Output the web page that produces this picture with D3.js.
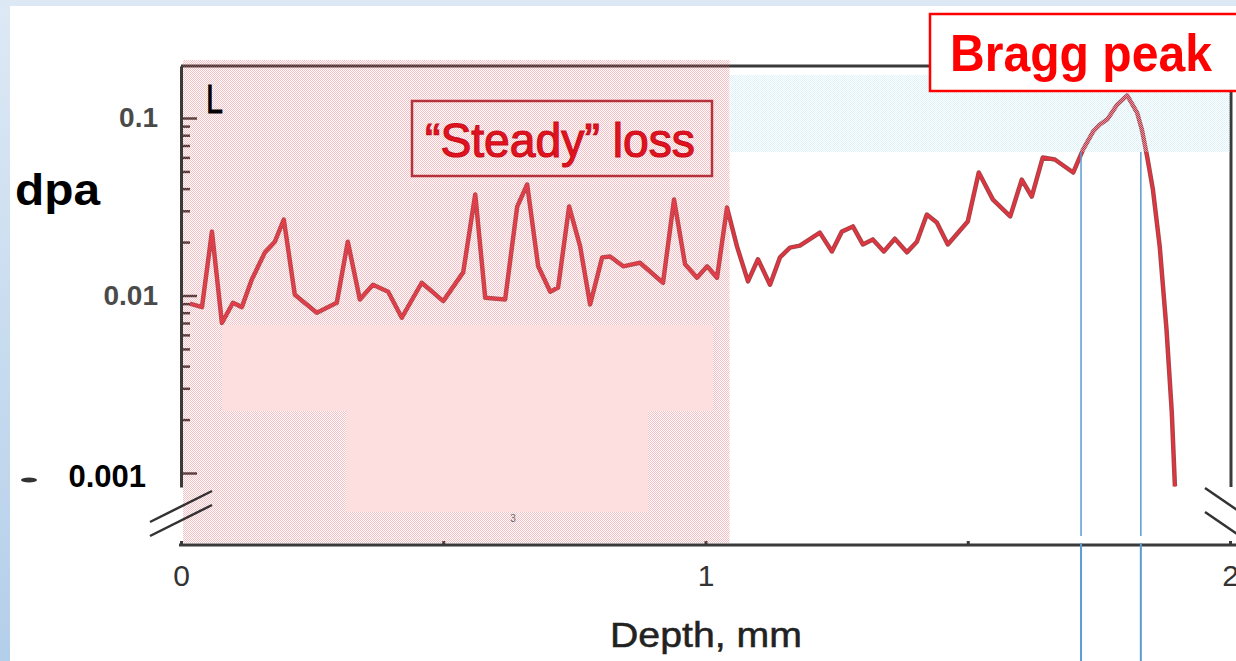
<!DOCTYPE html>
<html>
<head>
  <script src="https://d3js.org/d3.v7.min.js"></script>
  <style>
    body { margin: 0; background: #fff; }
    svg text { font-family: Arial, "Liberation Sans", sans-serif; }
    .axis path, .axis line { stroke: #3a3a3a; }
  </style>
</head>
<body>
  <svg class="chart" width="1236" height="661"></svg>
  <script>
    // depth (mm) and dpa
    var depthMm = [0.017, 0.040, 0.059, 0.078, 0.099, 0.116, 0.135, 0.160, 0.179, 0.196,
      0.217, 0.259, 0.297, 0.318, 0.341, 0.366, 0.395, 0.421, 0.459, 0.500,
      0.538, 0.561, 0.580, 0.618, 0.641, 0.660, 0.681, 0.704, 0.719, 0.740,
      0.761, 0.780, 0.803, 0.818, 0.843, 0.875, 0.919, 0.940, 0.961, 0.984,
      1.003, 1.022, 1.041, 1.060, 1.081, 1.100, 1.123, 1.142, 1.161, 1.180,
      1.218, 1.241, 1.260, 1.281, 1.300, 1.319, 1.340, 1.361, 1.384, 1.403,
      1.422, 1.441, 1.462, 1.500, 1.521, 1.548, 1.581, 1.603, 1.622, 1.643,
      1.666, 1.701, 1.720, 1.739, 1.752, 1.766, 1.785, 1.804, 1.823, 1.832,
      1.842, 1.853, 1.866, 1.879, 1.889, 1.895];
    var dpaValues = [0.0090, 0.0086, 0.0229, 0.0070, 0.0091, 0.0086, 0.0123, 0.0175, 0.0201, 0.0268,
      0.0101, 0.0080, 0.0091, 0.0201, 0.0095, 0.0115, 0.0105, 0.0075, 0.0118, 0.0093,
      0.0135, 0.0371, 0.0097, 0.0095, 0.0317, 0.0422, 0.0146, 0.0105, 0.0111, 0.0317,
      0.0189, 0.0089, 0.0164, 0.0166, 0.0146, 0.0153, 0.0118, 0.0347, 0.0150, 0.0126,
      0.0146, 0.0126, 0.0313, 0.0189, 0.0120, 0.0160, 0.0115, 0.0164, 0.0186, 0.0191,
      0.0226, 0.0177, 0.0229, 0.0245, 0.0194, 0.0207, 0.0177, 0.0209, 0.0175, 0.0201,
      0.0286, 0.0258, 0.0194, 0.0261, 0.0493, 0.0347, 0.0279, 0.0450, 0.0361, 0.0599,
      0.0584, 0.0493, 0.0665, 0.0839, 0.0919, 0.0981, 0.119, 0.134, 0.107, 0.0861,
      0.0607, 0.0396, 0.0189, 0.0064, 0.0022, 0.00084];

    var xTicks = [0, 0.5, 1, 1.5, 2];
    var xTickLabels = ['0', '', '1', '', '2'];
    var yMajor = [0.001, 0.01, 0.1];
    var yTickLabels = ['0.001', '0.01', '0.1'];
    var braggDepths = [1.716, 1.830];

    var svg = d3.select('.chart');

    var x = d3.scaleLinear().domain([0, 2]).range([181, 1230]);
    var y = d3.scaleLog().domain([0.001, 0.1]).range([473, 118]);
    y.domain([y.invert(487), y.invert(66)]).range([487, 66]);

    // slide background
    var defs = svg.append('defs');
    var grad = defs.append('linearGradient').attr('id', 'side')
      .attr('x1', 0).attr('y1', 0).attr('x2', 0).attr('y2', 1);
    grad.append('stop').attr('offset', 0).attr('stop-color', '#dde9f5');
    grad.append('stop').attr('offset', 1).attr('stop-color', '#b4cfea');
    var pink = defs.append('pattern').attr('id', 'pinkHatch')
      .attr('patternUnits', 'userSpaceOnUse').attr('width', 2).attr('height', 2);
    pink.append('rect').attr('x', 0).attr('y', 0).attr('width', 1).attr('height', 1)
      .attr('fill', '#f0606a').attr('fill-opacity', 0.4);
    pink.append('rect').attr('x', 1).attr('y', 1).attr('width', 1).attr('height', 1)
      .attr('fill', '#f0606a').attr('fill-opacity', 0.4);
    var blue = defs.append('pattern').attr('id', 'blueHatch')
      .attr('patternUnits', 'userSpaceOnUse').attr('width', 2).attr('height', 2);
    blue.append('rect').attr('x', 0).attr('y', 0).attr('width', 1).attr('height', 1)
      .attr('fill', '#bfe6f7').attr('fill-opacity', 0.55);
    blue.append('rect').attr('x', 1).attr('y', 1).attr('width', 1).attr('height', 1)
      .attr('fill', '#bfe6f7').attr('fill-opacity', 0.55);

    svg.append('rect').attr('width', 1236).attr('height', 661).attr('fill', 'url(#side)');
    svg.append('rect').attr('x', 0).attr('y', 0).attr('width', 1236).attr('height', 6).attr('fill', '#dce8f4');
    svg.append('rect').attr('x', 10).attr('y', 6).attr('width', 1226).attr('height', 655).attr('fill', '#fff');

    // data line
    var pts = depthMm.map(function (d, i) { return [d, dpaValues[i]]; });
    var line = d3.line()
      .x(function (d) { return x(d[0]); })
      .y(function (d) { return y(d[1]); });
    svg.append('path').datum(pts).attr('d', line)
      .attr('fill', 'none').attr('stroke', '#a94448').attr('stroke-width', 4.5)
      .attr('stroke-linejoin', 'round');
    svg.append('path').datum(pts).attr('d', line)
      .attr('fill', 'none').attr('stroke', '#e8323f').attr('stroke-width', 2)
      .attr('stroke-linejoin', 'round');

    // frame
    svg.append('line').attr('x1', 181).attr('x2', 1231).attr('y1', 66).attr('y2', 66)
      .attr('stroke', '#3a3a3a').attr('stroke-width', 3);
    svg.append('line').attr('x1', 1231).attr('x2', 1231).attr('y1', 66).attr('y2', 487)
      .attr('stroke', '#3a3a3a').attr('stroke-width', 3);

    // y axis (log)
    var yTickValues = [];
    yMajor.forEach(function (m) {
      d3.range(1, 10).forEach(function (k) { yTickValues.push(m * k); });
    });
    var dom = y.domain();
    yTickValues = yTickValues.filter(function (v) { return v >= dom[0] && v <= dom[1]; });
    function majorIndex(v) {
      for (var i = 0; i < yMajor.length; i++) {
        if (Math.abs(v - yMajor[i]) / yMajor[i] < 1e-6) return i;
      }
      return -1;
    }
    var yAxis = d3.axisLeft(y).tickValues(yTickValues)
      .tickSizeInner(-9).tickSizeOuter(0).tickPadding(23)
      .tickFormat(function (d) { var i = majorIndex(d); return i < 0 ? '' : yTickLabels[i]; });
    var gy = svg.append('g').attr('class', 'axis').attr('transform', 'translate(181,0)').call(yAxis);
    gy.select('.domain').attr('stroke-width', 3);
    gy.selectAll('.tick line').attr('stroke-width', 2.5)
      .attr('x2', function (d) { return majorIndex(d) < 0 ? 9 : 16; });
    gy.selectAll('.tick text')
      .attr('font-size', 28).attr('font-weight', 'bold').attr('fill', '#4a4a4a')
      .attr('font-family', 'Arial, "Liberation Sans", sans-serif');
    gy.selectAll('.tick text').filter(function (d) { return majorIndex(d) === 0; })
      .attr('font-size', 31).attr('fill', '#000')
      .attr('x', -35).attr('dy', '0.42em');

    // x axis
    var xAxis = d3.axisBottom(x).tickValues(xTicks)
      .tickSizeInner(-4).tickSizeOuter(0).tickPadding(20)
      .tickFormat(function (d, i) { return xTickLabels[i]; });
    var gx = svg.append('g').attr('class', 'axis').attr('transform', 'translate(0,545)').call(xAxis);
    gx.select('.domain').remove();
    gx.selectAll('.tick line').attr('stroke-width', 3);
    gx.selectAll('.tick text').attr('font-size', 30).attr('fill', '#333')
      .attr('font-family', 'Arial, "Liberation Sans", sans-serif');
    svg.append('line').attr('x1', 179).attr('x2', 1236).attr('y1', 545).attr('y2', 545)
      .attr('stroke', '#3a3a3a').attr('stroke-width', 3);

    // shaded regions
    svg.append('rect').attr('x', 183).attr('y', 60).attr('width', x(1.046) - 183).attr('height', 483)
      .attr('fill', 'url(#pinkHatch)');
    svg.append('rect').attr('x', x(1.046)).attr('y', 75).attr('width', 1230 - x(1.046)).attr('height', 77)
      .attr('fill', 'url(#blueHatch)');
    svg.append('rect').attr('x', 222).attr('y', 325).attr('width', 491).attr('height', 86).attr('fill', '#fddfdf');
    svg.append('rect').attr('x', 346).attr('y', 410).attr('width', 302).attr('height', 102).attr('fill', '#fddfdf');
    svg.append('text').attr('x', 513).attr('y', 522).attr('font-size', 10).attr('fill', '#666')
      .attr('text-anchor', 'middle').text('3');

    // Bragg peak markers
    braggDepths.forEach(function (d) {
      svg.append('line').attr('x1', x(d)).attr('x2', x(d)).attr('y1', 152).attr('y2', 536)
        .attr('stroke', '#5b9bd5').attr('stroke-width', 1.5);
      svg.append('line').attr('x1', x(d)).attr('x2', x(d)).attr('y1', 543).attr('y2', 661)
        .attr('stroke', '#5b9bd5').attr('stroke-width', 2);
    });

    // axis breaks
    var brk = [[150, 522, 212, 491], [150, 536, 212, 505], [1205, 488, 1240, 512], [1205, 512, 1240, 536]];
    brk.forEach(function (b) {
      svg.append('line').attr('x1', b[0]).attr('y1', b[1]).attr('x2', b[2]).attr('y2', b[3])
        .attr('stroke', '#333').attr('stroke-width', 2.5);
    });
    svg.append('ellipse').attr('cx', 29).attr('cy', 480).attr('rx', 8).attr('ry', 2.5).attr('fill', '#333');

    // labels
    svg.append('text').attr('x', 15).attr('y', 205).attr('font-size', 44).attr('font-weight', 'bold')
      .attr('fill', '#000').attr('textLength', 85).attr('lengthAdjust', 'spacingAndGlyphs').text('dpa');
    svg.append('text').attr('x', 206).attr('y', 113).attr('font-size', 40)
      .attr('fill', '#000').attr('stroke', '#000').attr('stroke-width', 0.8)
      .attr('textLength', 17).attr('lengthAdjust', 'spacingAndGlyphs').text('L');
    svg.append('text').attr('x', 610).attr('y', 647).attr('font-size', 35)
      .attr('fill', '#222').attr('stroke', '#222').attr('stroke-width', 0.5)
      .attr('textLength', 192).attr('lengthAdjust', 'spacingAndGlyphs').text('Depth, mm');

    // "Steady" loss box
    svg.append('rect').attr('x', 412).attr('y', 101).attr('width', 300).attr('height', 75)
      .attr('fill', 'none').attr('stroke', '#b3323c').attr('stroke-width', 2.5);
    svg.append('text').attr('x', 425).attr('y', 157).attr('font-size', 48).attr('fill', '#e3121f')
      .attr('stroke', '#c8101c').attr('stroke-width', 1.2)
      .attr('textLength', 270).attr('lengthAdjust', 'spacingAndGlyphs').text('\u201CSteady\u201D loss');

    // Bragg peak box
    svg.append('rect').attr('x', 930).attr('y', 14).attr('width', 330).attr('height', 77)
      .attr('fill', '#fff').attr('stroke', '#ff0000').attr('stroke-width', 2.5);
    svg.append('text').attr('x', 950).attr('y', 71).attr('font-size', 52).attr('font-weight', 'bold')
      .attr('fill', '#ff0000').attr('textLength', 262).attr('lengthAdjust', 'spacingAndGlyphs').text('Bragg peak');
  </script>
</body>
</html>
